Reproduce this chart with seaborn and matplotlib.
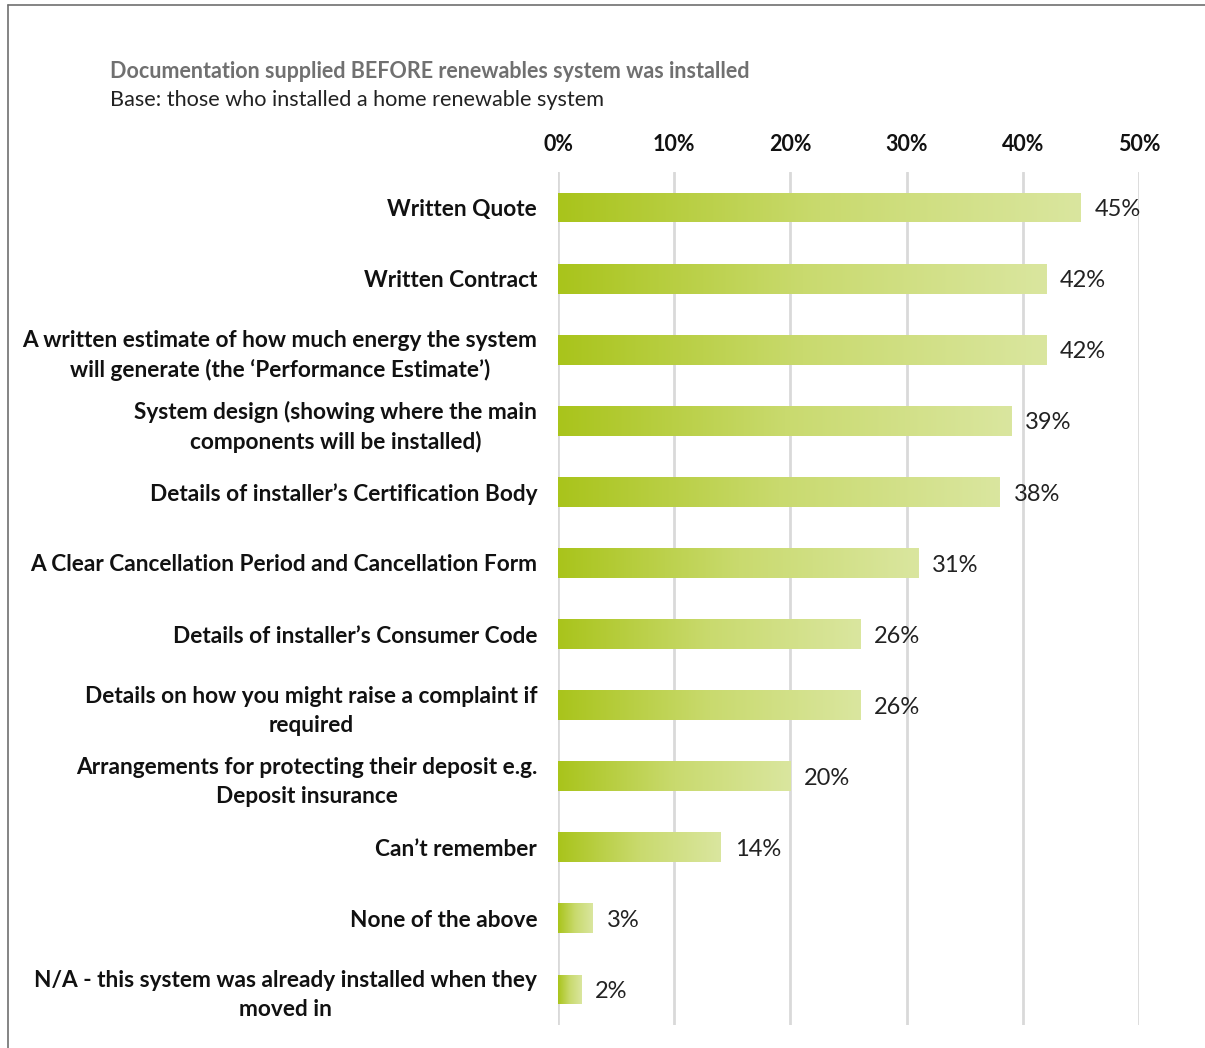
import numpy as np
import pandas as pd
import matplotlib
matplotlib.use("Agg")
import matplotlib.pyplot as plt
import seaborn as sns
from matplotlib.colors import LinearSegmentedColormap
from matplotlib.patches import Rectangle

categories = [
    "Written Quote",
    "Written Contract",
    "A written estimate of how much energy the system\nwill generate (the \u2018Performance Estimate\u2019)",
    "System design (showing where the main\ncomponents will be installed)",
    "Details of installer\u2019s Certification Body",
    "A Clear Cancellation Period and Cancellation Form",
    "Details of installer\u2019s Consumer Code",
    "Details on how you might raise a complaint if\nrequired",
    "Arrangements for protecting their deposit e.g.\nDeposit insurance",
    "Can\u2019t remember",
    "None of the above",
    "N/A - this system was already installed when they\nmoved in",
]
values = [45, 42, 42, 39, 38, 31, 26, 26, 20, 14, 3, 2]
tick_values = [0, 10, 20, 30, 40, 50]
tick_labels = ["0%", "10%", "20%", "30%", "40%", "50%"]

title = "Documentation supplied BEFORE renewables system was installed"
subtitle = "Base: those who installed a home renewable system"

sns.set_theme(style="white")
plt.rcParams["font.family"] = ["Lato", "DejaVu Sans"]

W, H = 1205, 1048
fig = plt.figure(figsize=(W / 100, H / 100), dpi=100)
ax = fig.add_axes([558 / W, 1 - 1025 / H, (1139 - 558) / W, (1025 - 172) / H])

df = pd.DataFrame({"category": categories, "value": values})
sns.barplot(data=df, y="category", x="value", orient="h", ax=ax,
            color="#b5cc3a", width=0.42, saturation=1, zorder=2)

# gradient fill for each bar
cmap = LinearSegmentedColormap.from_list("grn", ["#a9c41b", "#c9da6e", "#dae69f"])
grad = np.linspace(0, 1, 256).reshape(1, -1)
for patch in list(ax.patches):
    x0, y0 = patch.get_x(), patch.get_y()
    w, h = patch.get_width(), patch.get_height()
    patch.set_alpha(0)
    im = ax.imshow(grad, cmap=cmap, aspect="auto",
                   extent=[x0, x0 + w, y0 + h, y0], zorder=3,
                   interpolation="bilinear")
    im.set_clip_path(Rectangle((x0, y0), w, h, transform=ax.transData))

ax.set_xlim(0, 50)
ax.set_ylim(len(categories) - 0.5, -0.5)

# value labels
for i, v in enumerate(values):
    ax.text(v + 1.2, i + 0.03, f"{v}%", va="center", ha="left",
            fontsize=17, color="#222222", zorder=4)

ax.set_xticks(tick_values)
ax.set_xticklabels(tick_labels, fontsize=15.5, fontweight="bold", color="#111111")
ax.xaxis.tick_top()
ax.tick_params(axis="x", length=0, pad=12)
ax.set_yticks(range(len(categories)))
ax.set_yticklabels(categories, fontsize=16.3, fontweight="bold",
                   color="#111111", multialignment="center", linespacing=1.45)
ax.tick_params(axis="y", length=0, pad=15)
ax.set_xlabel("")
ax.set_ylabel("")

ax.grid(axis="x", color="#d9d9d9", linewidth=2, zorder=0)
ax.grid(axis="y", visible=False)
for s in ax.spines.values():
    s.set_visible(False)

fig.text(110 / W, 1 - 72 / H, title, fontsize=15.5, fontweight="bold",
         color="#707070", va="center", ha="left")
fig.text(110 / W, 1 - 100 / H, subtitle, fontsize=15.6,
         color="#222222", va="center", ha="left")

# outer frame along the top and left edges
fig.add_artist(plt.Line2D([8 / W, 8 / W], [0, 1 - 5 / H], transform=fig.transFigure,
                          color="#707070", linewidth=1.2))
fig.add_artist(plt.Line2D([8 / W, 1], [1 - 5 / H, 1 - 5 / H], transform=fig.transFigure,
                          color="#707070", linewidth=1.2))

fig.savefig("out.png", dpi=100, facecolor="white")
